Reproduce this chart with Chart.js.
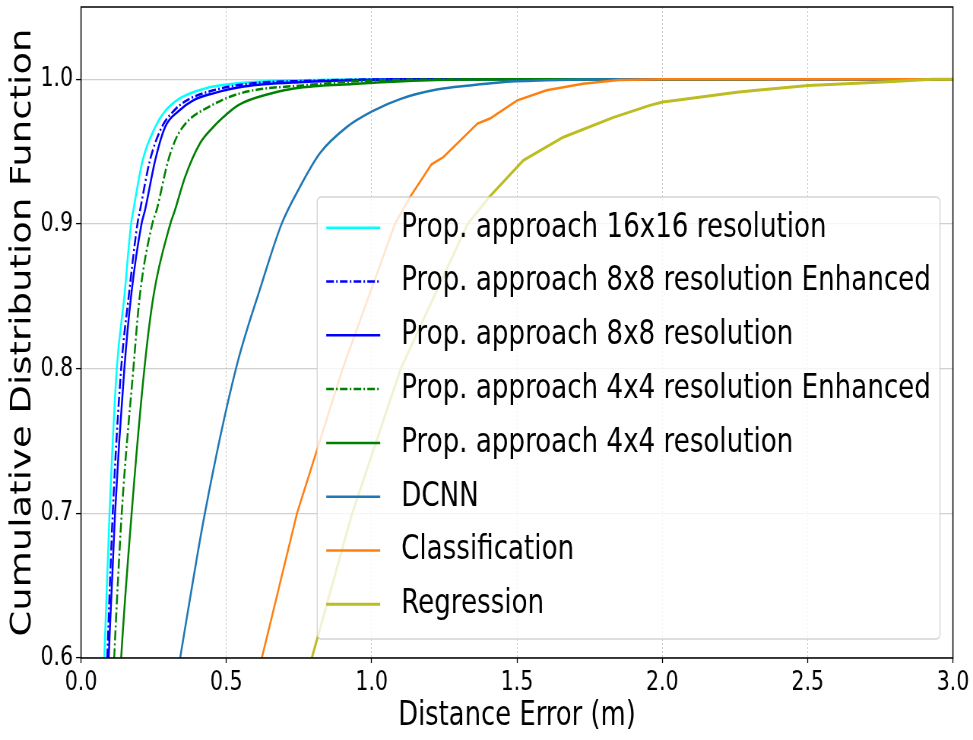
<!DOCTYPE html>
<html>
<head>
<meta charset="utf-8">
<script src="https://cdn.jsdelivr.net/npm/chart.js@4.4.1/dist/chart.umd.min.js"></script>
<style>
  html, body { margin: 0; padding: 0; background: #fff; overflow: hidden; }
  #cdf { display: block; }
</style>
</head>
<body>
<!-- drawn wide, shown squeezed like the original figure -->
<canvas id="cdf" width="1280" height="740" style="width:973px;height:740px"></canvas>
<script>
// legend labels, in plot order
const labels = [
  'Prop. approach 16x16 resolution',
  'Prop. approach 8x8 resolution Enhanced',
  'Prop. approach 8x8 resolution',
  'Prop. approach 4x4 resolution Enhanced',
  'Prop. approach 4x4 resolution',
  'DCNN',
  'Classification',
  'Regression'
];

// distance error (m) / CDF
const prop16Err = [0.070, 0.080, 0.098, 0.123, 0.149, 0.172, 0.180, 0.212, 0.255, 0.289, 0.341, 0.432, 0.510, 0.650, 0.850, 1.200, 2.350];
const prop16Cdf = [0.55, 0.60, 0.70, 0.80, 0.85, 0.90, 0.9095, 0.944, 0.967, 0.978, 0.987, 0.994, 0.9966, 0.9988, 0.9997, 1.0, 1.0];

const prop8EErr = [0.081, 0.090, 0.109, 0.138, 0.164, 0.194, 0.203, 0.237, 0.278, 0.318, 0.364, 0.455, 0.580, 0.800, 1.100, 1.200];
const prop8ECdf = [0.55, 0.60, 0.70, 0.80, 0.85, 0.90, 0.9095, 0.944, 0.967, 0.978, 0.9855, 0.9924, 0.997, 0.999, 1.0, 1.0];

const prop8Err = [0.085, 0.095, 0.117, 0.149, 0.172, 0.208, 0.220, 0.255, 0.289, 0.335, 0.386, 0.455, 0.560, 0.750, 1.200, 3.0];
const prop8Cdf = [0.55, 0.60, 0.70, 0.80, 0.85, 0.90, 0.9095, 0.944, 0.967, 0.978, 0.9855, 0.9903, 0.995, 0.998, 1.0, 1.0];

const prop4EErr = [0.103, 0.114, 0.140, 0.180, 0.202, 0.245, 0.260, 0.300, 0.329, 0.370, 0.440, 0.510, 0.593, 0.765, 0.990, 1.450, 3.0];
const prop4ECdf = [0.55, 0.60, 0.70, 0.80, 0.85, 0.90, 0.9095, 0.944, 0.960, 0.9717, 0.981, 0.9878, 0.9924, 0.9958, 0.999, 1.0, 1.0];

const prop4Err = [0.125, 0.138, 0.174, 0.218, 0.249, 0.307, 0.323, 0.358, 0.409, 0.455, 0.478, 0.540, 0.650, 0.764, 0.936, 1.220, 1.500, 2.350];
const prop4Cdf = [0.55, 0.60, 0.70, 0.80, 0.85, 0.90, 0.9095, 0.9325, 0.9556, 0.967, 0.9717, 0.982, 0.990, 0.9945, 0.9968, 0.9995, 1.0, 1.0];

const dcnnErr = [0.300, 0.341, 0.426, 0.533, 0.620, 0.690, 0.753, 0.822, 0.914, 1.003, 1.100, 1.224, 1.338, 1.450, 1.600, 1.850, 3.0];
const dcnnCdf = [0.55, 0.60, 0.70, 0.80, 0.8577, 0.90, 0.9256, 0.949, 0.967, 0.978, 0.9865, 0.9929, 0.9958, 0.998, 0.9993, 1.0, 1.0];

const classErr = [0.565, 0.622, 0.743, 0.900, 1.080, 1.132, 1.206, 1.247, 1.364, 1.407, 1.501, 1.602, 1.727, 1.850, 2.000, 3.0];
const classCdf = [0.55, 0.60, 0.70, 0.80, 0.90, 0.9187, 0.9413, 0.9463, 0.9694, 0.9729, 0.9855, 0.9924, 0.997, 0.9995, 1.0, 1.0];

const regErr = [0.730, 0.794, 0.933, 1.100, 1.330, 1.405, 1.522, 1.659, 1.830, 1.957, 2.001, 2.049, 2.256, 2.325, 2.502, 2.760, 2.930, 3.0];
const regCdf = [0.55, 0.60, 0.70, 0.80, 0.90, 0.9187, 0.944, 0.960, 0.9735, 0.982, 0.9843, 0.9855, 0.991, 0.9924, 0.9958, 0.9981, 1.0, 1.0];

// axis ticks
const xTicks = [0.0, 0.5, 1.0, 1.5, 2.0, 2.5, 3.0];
const yTicks = [0.6, 0.7, 0.8, 0.9, 1.0];

const errs = [prop16Err, prop8EErr, prop8Err, prop4EErr, prop4Err, dcnnErr, classErr, regErr];
const cdfs = [prop16Cdf, prop8ECdf, prop8Cdf, prop4ECdf, prop4Cdf, dcnnCdf, classCdf, regCdf];
const colors = ['#00ffff', '#0000ff', '#0000ff', '#008000', '#008000', '#1f77b4', '#ff7f0e', '#bcbd22'];
const dashes = [[], [10, 3, 2, 3], [], [10, 3, 2, 3], [], [], [], []];
const widths = [2.5, 2.5, 2.5, 2.5, 2.5, 2.5, 2.5, 3];

function pts(xs, ys) {
  return xs.map((x, i) => ({ x: x, y: ys[i] }));
}

// frame + legend box drawn on top of the lines
const frameAndLegend = {
  id: 'frameAndLegend',
  afterDatasetsDraw(chart) {
    const ctx = chart.ctx;
    const a = chart.chartArea;
    ctx.save();
    ctx.strokeStyle = '#000';
    ctx.lineWidth = 1.5;
    ctx.strokeRect(a.left, a.top, a.right - a.left, a.bottom - a.top);

    ctx.font = '34.4px "DejaVu Sans"';
    let maxW = 0;
    labels.forEach(l => { maxW = Math.max(maxW, ctx.measureText(l).width); });
    const pad = 12, handle = 71, gap = 27.5, rowH = 53.8;
    const w = pad + handle + gap + maxW + pad;
    const h = 442;
    const x0 = a.right - 17 - w;
    const y0 = a.bottom - 19 - h;
    ctx.beginPath();
    ctx.roundRect(x0, y0, w, h, 5);
    ctx.fillStyle = 'rgba(255,255,255,0.8)';
    ctx.fill();
    ctx.strokeStyle = 'rgba(200,200,200,0.8)';
    ctx.lineWidth = 1.3;
    ctx.stroke();

    ctx.textBaseline = 'middle';
    ctx.textAlign = 'left';
    chart.data.datasets.forEach((ds, i) => {
      const y = y0 + 30.7 + i * rowH;
      ctx.beginPath();
      ctx.setLineDash(ds.borderDash || []);
      ctx.strokeStyle = ds.borderColor;
      ctx.lineWidth = ds.borderWidth;
      ctx.moveTo(x0 + pad, y);
      ctx.lineTo(x0 + pad + handle, y);
      ctx.stroke();
      ctx.setLineDash([]);
      ctx.fillStyle = '#000';
      ctx.fillText(ds.label, x0 + pad + handle + gap, y);
    });
    ctx.restore();
  }
};

Chart.defaults.font.family = '"DejaVu Sans", sans-serif';
Chart.defaults.color = '#000';

const datasets = labels.map((l, i) => ({
  label: l,
  data: pts(errs[i], cdfs[i]),
  borderColor: colors[i],
  backgroundColor: colors[i],
  borderWidth: widths[i],
  borderDash: dashes[i],
  pointRadius: 0,
  fill: false,
  clip: 0,
  order: labels.length - i,
  cubicInterpolationMode: i >= 6 ? 'default' : 'monotone',
  tension: 0
}));

new Chart(document.getElementById('cdf'), {
  type: 'line',
  data: { datasets: datasets },
  options: {
    responsive: false,
    devicePixelRatio: 1,
    animation: false,
    layout: { padding: { left: 0, right: 26.4, top: 7, bottom: 0 } },
    plugins: {
      legend: { display: false },
      tooltip: { enabled: false }
    },
    scales: {
      x: {
        type: 'linear',
        min: 0,
        max: 3,
        afterBuildTicks: s => { s.ticks = xTicks.map(v => ({ value: v })); },
        afterFit: s => { s.height = 82; s.paddingLeft = 0; s.paddingRight = 0; },
        ticks: {
          font: { size: 27 },
          padding: 3.5,
          maxRotation: 0,
          callback: v => v.toFixed(1)
        },
        grid: {
          color: 'rgba(176,176,176,0.7)',
          lineWidth: 1,
          tickColor: '#000',
          tickLength: 5,
          tickWidth: 1.3
        },
        border: { display: false, dash: [2, 2] },
        title: {
          display: true,
          text: 'Distance Error (m)',
          font: { size: 34 },
          padding: { top: 0, bottom: 3.4 }
        }
      },
      y: {
        type: 'linear',
        min: 0.6,
        max: 1.05,
        afterBuildTicks: s => { s.ticks = yTicks.map(v => ({ value: v })); },
        afterFit: s => { s.width = 106.6; s.paddingTop = 0; s.paddingBottom = 0; },
        ticks: {
          font: { size: 27 },
          padding: 4,
          callback: v => v.toFixed(1)
        },
        grid: {
          color: 'rgba(176,176,176,0.6)',
          lineWidth: 1.2,
          tickColor: '#000',
          tickLength: 6.5,
          tickWidth: 1.3
        },
        border: { display: false },
        title: {
          display: true,
          text: 'Cumulative Distribution Function',
          font: { size: 37 },
          padding: { top: 8.4, bottom: 0 }
        }
      }
    }
  },
  plugins: [frameAndLegend]
});
</script>
</body>
</html>
